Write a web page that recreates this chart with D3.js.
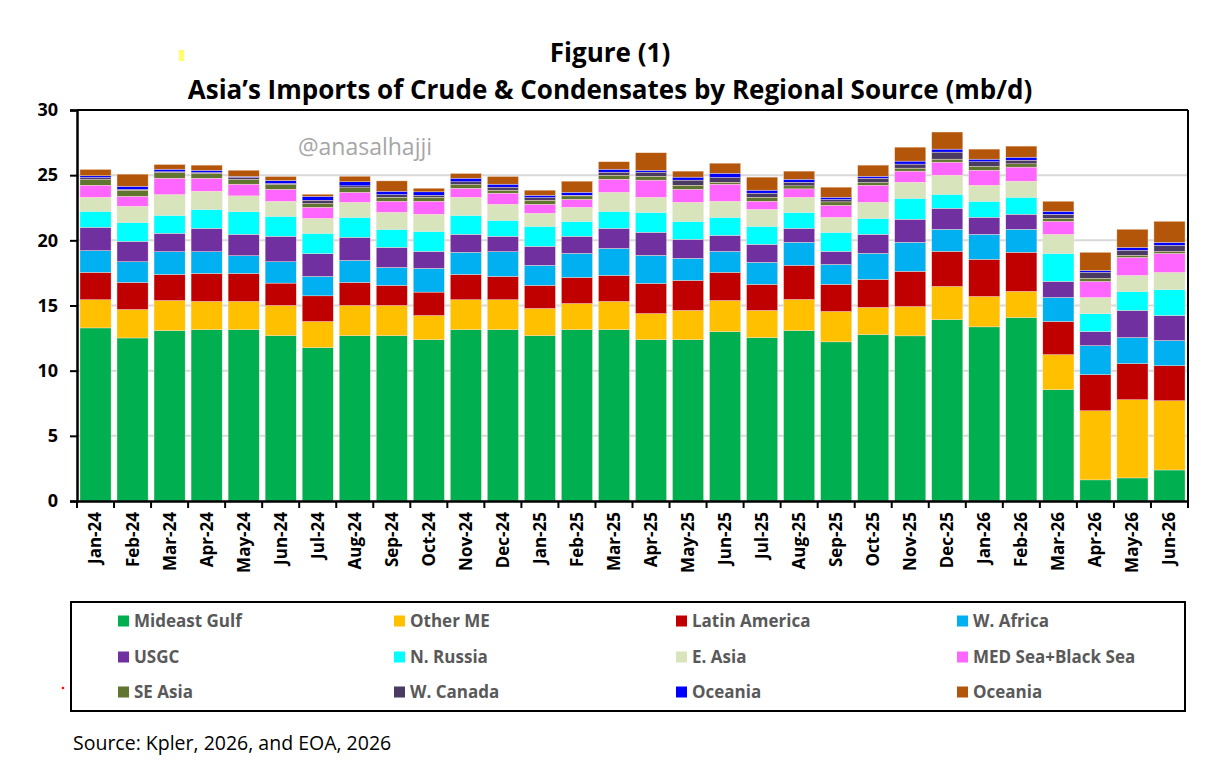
<!DOCTYPE html>
<html>
<head>
<meta charset="utf-8">
<script src="https://cdn.jsdelivr.net/npm/d3@7"></script>
<style>
  body { margin: 0; background: #fff; }
  svg { display: block; }
</style>
</head>
<body>
<div id="chart"></div>
<script>
// Month categories
const months = ["Jan-24","Feb-24","Mar-24","Apr-24","May-24","Jun-24","Jul-24","Aug-24","Sep-24","Oct-24","Nov-24","Dec-24",
  "Jan-25","Feb-25","Mar-25","Apr-25","May-25","Jun-25","Jul-25","Aug-25","Sep-25","Oct-25","Nov-25","Dec-25",
  "Jan-26","Feb-26","Mar-26","Apr-26","May-26","Jun-26"];

// Series values (mb/d)
const mideastGulf = [13.28,12.51,13.08,13.15,13.15,12.69,11.77,12.69,12.69,12.38,13.15,13.15,12.69,13.15,13.15,12.38,12.38,13.0,12.54,13.08,12.21,12.77,12.67,13.92,13.36,14.08,8.54,1.62,1.77,2.38];
const otherME = [2.16,2.18,2.30,2.16,2.16,2.31,2.00,2.31,2.31,1.85,2.29,2.29,2.08,2.00,2.16,2.00,2.24,2.38,2.08,2.38,2.33,2.08,2.25,2.54,2.33,2.00,2.69,5.30,6.00,5.31];
const latinAmerica = [2.10,2.08,2.00,2.15,2.15,1.72,1.97,1.77,1.54,1.80,1.94,1.79,1.77,2.00,2.00,2.31,2.30,2.16,2.00,2.62,2.08,2.15,2.70,2.69,2.85,3.00,2.54,2.77,2.77,2.69];
const wAfrica = [1.67,1.59,1.75,1.67,1.36,1.64,1.49,1.69,1.38,1.82,1.70,1.90,1.54,1.85,2.07,2.16,1.70,1.61,1.69,1.77,1.53,2.00,2.23,1.70,1.92,1.77,1.85,2.23,2.00,1.93];
const usgc = [1.79,1.56,1.41,1.79,1.64,1.95,1.74,1.77,1.54,1.30,1.38,1.18,1.46,1.31,1.54,1.77,1.46,1.23,1.38,1.07,1.00,1.46,1.77,1.61,1.31,1.15,1.23,1.08,2.08,1.92];
const nRussia = [1.23,1.46,1.38,1.46,1.75,1.54,1.57,1.54,1.39,1.54,1.46,1.23,1.54,1.15,1.31,1.53,1.38,1.39,1.39,1.23,1.47,1.23,1.61,1.08,1.23,1.31,2.15,1.38,1.46,2.00];
const eAsia = [1.08,1.24,1.59,1.39,1.20,1.15,1.15,1.15,1.30,1.31,1.39,1.23,1.00,1.08,1.46,1.16,1.46,1.23,1.30,1.16,1.15,1.23,1.23,1.46,1.23,1.23,1.46,1.24,1.23,1.31];
const medBlack = [0.92,0.76,1.26,1.00,0.90,0.92,0.85,0.77,0.85,1.00,0.69,0.85,0.69,0.61,1.00,1.31,1.00,1.31,0.62,0.64,0.92,1.31,0.85,1.00,1.15,1.08,1.00,1.23,1.38,1.46];
const seAsia = [0.44,0.47,0.44,0.36,0.36,0.36,0.28,0.34,0.31,0.31,0.28,0.23,0.31,0.26,0.31,0.30,0.31,0.15,0.31,0.23,0.26,0.21,0.23,0.23,0.29,0.25,0.23,0.23,0.16,0.15];
const wCanada = [0.15,0.05,0.05,0.07,0.15,0.08,0.26,0.15,0.20,0.15,0.21,0.23,0.20,0.05,0.23,0.31,0.39,0.36,0.31,0.28,0.18,0.33,0.31,0.54,0.36,0.28,0.31,0.46,0.38,0.47];
const oceaniaBlue = [0.13,0.25,0.20,0.18,0.08,0.23,0.30,0.31,0.26,0.26,0.28,0.23,0.18,0.23,0.23,0.15,0.23,0.33,0.23,0.23,0.18,0.15,0.23,0.23,0.20,0.23,0.23,0.15,0.23,0.23];
const oceaniaBrown = [0.49,0.93,0.36,0.39,0.48,0.31,0.16,0.43,0.79,0.28,0.36,0.59,0.39,0.85,0.57,1.34,0.46,0.77,1.00,0.62,0.77,0.85,1.07,1.31,0.77,0.85,0.77,1.39,1.39,1.61];

const seriesNames = ["Mideast Gulf","Other ME","Latin America","W. Africa","USGC","N. Russia","E. Asia","MED Sea+Black Sea","SE Asia","W. Canada","Oceania","Oceania "];
const seriesValues = [mideastGulf, otherME, latinAmerica, wAfrica, usgc, nRussia, eAsia, medBlack, seAsia, wCanada, oceaniaBlue, oceaniaBrown];
const seriesColors = ["#00B050","#FFC000","#C00000","#00B0F0","#7030A0","#00FFFF","#D8E4BC","#FF66FF","#5F7530","#4A3B62","#0000FF","#B4560A"];
const yTicks = [0,5,10,15,20,25,30];

// Build rows for the stack
const rows = months.map((m, i) => {
  const row = { month: m };
  seriesNames.forEach((s, j) => { row[s] = seriesValues[j][i]; });
  return row;
});

const svgWidth = 1221, svgHeight = 778;
const margin = { top: 110, right: 33, bottom: 277, left: 77 };
const width = svgWidth - margin.left - margin.right;
const height = svgHeight - margin.top - margin.bottom;

const svg = d3.select("#chart").append("svg")
  .attr("width", svgWidth)
  .attr("height", svgHeight);

// Title
svg.append("text")
  .attr("x", 610).attr("y", 62)
  .attr("text-anchor", "middle")
  .style("font-family", "'Open Sans', sans-serif")
  .style("font-size", "26px").style("font-weight", "bold")
  .text("Figure (1)");
svg.append("text")
  .attr("x", 610).attr("y", 99)
  .attr("text-anchor", "middle")
  .style("font-family", "'Open Sans', sans-serif")
  .style("font-size", "26px").style("font-weight", "bold")
  .text("Asia’s Imports of Crude & Condensates by Regional Source (mb/d)");

// stray yellow mark from the original image
svg.append("rect").attr("x", 179).attr("y", 50).attr("width", 5).attr("height", 11).attr("fill", "#ffff66");

const g = svg.append("g").attr("transform", `translate(${margin.left},${margin.top})`);

const x = d3.scaleBand().domain(months).range([0, width]).paddingInner(0.16).paddingOuter(0.08);
const y = d3.scaleLinear().domain([0, 30]).range([height, 0]);

// Gridlines
g.append("g")
  .selectAll("line")
  .data(yTicks.filter(d => d > 0 && d < 30))
  .enter().append("line")
  .attr("x1", 0).attr("x2", width)
  .attr("y1", d => y(d)).attr("y2", d => y(d))
  .attr("stroke", "#d9d9d9").attr("stroke-width", 2);

// Watermark
g.append("text")
  .attr("x", 288).attr("y", 45)
  .attr("text-anchor", "middle")
  .style("font-family", "'Open Sans', sans-serif")
  .style("font-size", "23px").style("fill", "#a6a6a6")
  .text("@anasalhajji");

const stack = d3.stack().keys(seriesNames);
const layers = stack(rows);

g.selectAll(".layer")
  .data(layers)
  .enter().append("g")
  .attr("class", "layer")
  .attr("fill", (d, i) => seriesColors[i])
  .selectAll("rect")
  .data(d => d)
  .enter().append("rect")
  .attr("x", d => x(d.data.month))
  .attr("y", d => y(d[1]))
  .attr("width", x.bandwidth())
  .attr("height", d => y(d[0]) - y(d[1]))
  .attr("stroke", "#fbe5d6").attr("stroke-width", 0.4);

// Frame top and right
g.append("line").attr("x1", 0).attr("x2", width).attr("y1", 0).attr("y2", 0).attr("stroke", "#000").attr("stroke-width", 2);
g.append("line").attr("x1", width).attr("x2", width).attr("y1", 0).attr("y2", height).attr("stroke", "#000").attr("stroke-width", 2);

// Y axis
const yAxis = g.append("g")
  .call(d3.axisLeft(y).tickValues(yTicks).tickSize(7).tickPadding(12));
yAxis.select(".domain").attr("stroke-width", 2.5);
yAxis.selectAll(".tick line").attr("stroke-width", 2);
yAxis.selectAll("text")
  .style("font-family", "'Open Sans', sans-serif")
  .style("font-size", "18px").style("font-weight", "bold").attr("fill", "#000");

// X axis, ticks at band edges
const xAxis = g.append("g").attr("transform", `translate(0,${height})`)
  .call(d3.axisBottom(x).tickSize(0).tickPadding(0));
xAxis.select(".domain").attr("stroke-width", 2.5);
xAxis.selectAll("text")
  .attr("transform", "rotate(-90)")
  .attr("x", -11).attr("y", 0).attr("dy", "0.35em")
  .attr("text-anchor", "end")
  .style("font-family", "'Open Sans', sans-serif")
  .style("font-size", "17px").style("font-weight", "bold").attr("fill", "#000");

const step = x.step();
const edges = d3.range(months.length + 1).map(i => x(months[0]) - x.paddingInner() * step / 2 + i * step);
xAxis.selectAll(".edge")
  .data(edges)
  .enter().append("line")
  .attr("x1", d => d).attr("x2", d => d)
  .attr("y1", 0).attr("y2", 7)
  .attr("stroke", "#000").attr("stroke-width", 2);

// Legend
const legend = svg.append("g");
legend.append("rect")
  .attr("x", 71).attr("y", 602).attr("width", 1114).attr("height", 109)
  .attr("fill", "none").attr("stroke", "#000").attr("stroke-width", 2);

const colX = [118, 394, 676, 957];
const rowY = [621, 657, 692];
seriesNames.forEach((name, i) => {
  const cx = colX[i % 4], cy = rowY[Math.floor(i / 4)];
  legend.append("rect")
    .attr("x", cx).attr("y", cy - 5.5).attr("width", 11).attr("height", 11)
    .attr("fill", seriesColors[i]);
  legend.append("text")
    .attr("x", cx + 16).attr("y", cy).attr("dy", "0.36em")
    .style("font-family", "'Open Sans', sans-serif")
    .style("font-size", "17px").style("font-weight", "bold").style("fill", "#595959")
    .text(name.trim());
});

// stray red dot
svg.append("circle").attr("cx", 63).attr("cy", 688).attr("r", 1.3).attr("fill", "#ff0000");

// Source
svg.append("text")
  .attr("x", 73).attr("y", 750)
  .style("font-family", "'Open Sans', sans-serif")
  .style("font-size", "19.5px").style("fill", "#000")
  .text("Source: Kpler, 2026, and EOA, 2026");
</script>
</body>
</html>
